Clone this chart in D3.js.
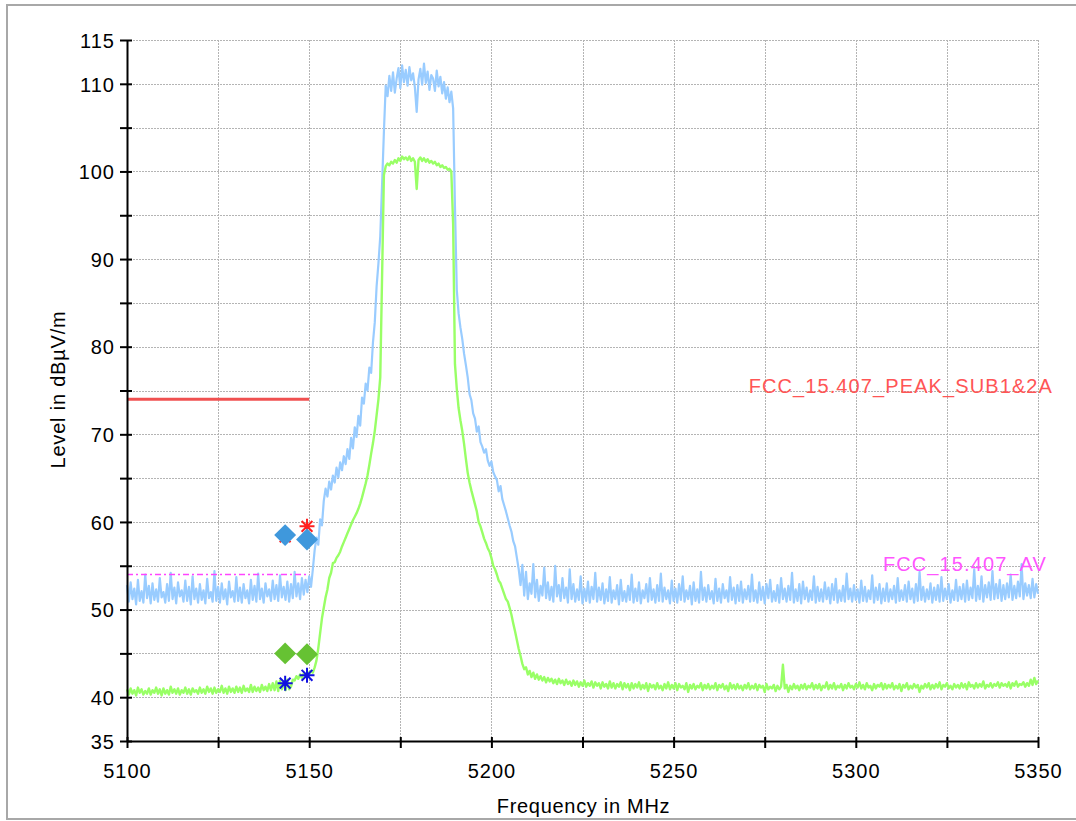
<!DOCTYPE html>
<html><head><meta charset="utf-8">
<script src="https://cdn.jsdelivr.net/npm/d3@7"></script>
<style>
html,body{margin:0;padding:0;background:#fff;}
svg{display:block;font-family:"Liberation Sans",Arial,sans-serif;}
</style></head><body>
<svg id="chart" width="1076" height="821"></svg>
<script>
// ---------- data ----------
const freqStart = 5100;
const freqStep = 0.5;

// Peak detector trace (light blue), one value every 0.5 MHz from 5100 to 5350
const peakTrace = [
52.8,50.9,53.1,51.2,52.4,50.6,53.4,51.0,52.1,50.8,54.0,51.3,52.7,50.7,53.0,51.1,52.3,50.9,53.6,51.4,
52.0,50.8,52.9,51.0,54.2,51.2,52.5,50.7,53.1,51.5,52.2,50.9,53.3,51.0,52.6,50.6,53.8,51.2,52.4,50.8,
52.9,51.1,52.2,50.7,53.5,51.3,52.0,50.9,54.4,51.0,52.6,50.8,53.0,51.2,52.3,50.6,53.2,51.4,52.1,50.9,
53.7,51.0,52.5,50.8,52.9,51.3,52.2,50.7,53.4,51.1,52.7,50.9,54.1,51.2,52.4,50.8,53.0,51.5,52.3,51.0,
53.3,51.2,52.8,51.0,53.9,51.4,52.6,51.1,53.2,50.9,52.9,51.3,54.3,51.5,53.0,51.2,53.6,51.7,53.4,52.0,
53.8,52.6,54.6,56.8,58.2,57.4,60.3,59.6,62.4,63.8,
62.9,64.6,63.7,65.3,64.5,66.2,65.1,66.8,65.9,67.5,
66.6,68.3,67.2,69.6,68.4,70.8,69.7,72.1,71.0,74.2,
73.5,75.8,75.0,77.6,77.0,80.5,82.8,86.9,89.5,92.6,
98.5,104.5,
109.8,108.6,110.9,109.2,111.3,109.0,110.6,111.8,109.5,112.1,
110.2,111.6,109.8,111.9,110.4,111.2,109.6,106.8,110.5,111.7,
109.9,112.3,110.1,111.4,109.3,111.0,110.6,109.2,111.5,109.7,
110.8,108.9,110.2,108.3,109.6,107.9,109.1,107.2,
96.0,86.5,83.8,82.2,80.9,79.2,77.9,76.5,74.6,73.9,
72.4,71.8,70.3,70.9,69.1,68.6,67.9,68.3,67.0,66.4,
66.9,65.7,65.2,64.8,63.5,64.1,62.6,61.9,61.2,60.4,
59.6,58.9,57.8,57.2,55.9,54.6,52.8,55.1,
51.6,54.3,51.2,53.0,51.8,55.2,51.4,53.4,51.0,52.7,51.6,54.8,51.3,53.1,51.1,52.6,50.9,55.0,51.5,52.8,
51.0,53.6,51.3,52.5,50.8,54.6,51.2,52.9,50.9,52.3,51.1,53.8,50.7,52.4,51.0,53.2,50.8,52.6,51.2,54.2,
50.9,52.5,51.1,53.0,50.7,52.3,51.0,53.7,50.8,52.2,51.2,52.8,50.6,53.4,51.0,52.1,50.9,52.7,51.1,54.0,
50.8,52.4,51.0,53.1,50.7,52.2,51.3,52.9,50.9,53.6,51.1,52.3,50.8,52.8,51.0,54.1,50.9,52.5,51.2,52.2,
50.7,53.3,51.0,52.4,50.8,52.9,51.1,53.8,50.9,52.2,51.2,52.7,50.6,53.1,51.0,52.3,50.8,54.3,51.1,52.5,
50.9,52.8,51.2,52.1,50.7,53.5,51.0,52.4,50.8,52.9,51.3,52.2,50.9,53.7,51.1,52.5,50.7,52.8,51.0,53.2,
50.8,52.3,51.2,52.7,50.9,54.0,51.0,52.2,50.8,53.1,51.1,52.6,50.7,52.9,51.3,53.4,50.9,52.1,51.0,52.8,
50.8,53.6,51.2,52.4,50.9,52.7,51.1,54.2,50.8,52.3,51.0,52.9,50.7,53.2,51.2,52.5,50.9,52.2,51.1,53.8,
50.8,52.6,51.0,52.3,50.9,53.1,51.2,52.5,50.7,52.9,51.1,53.5,50.8,52.2,51.0,52.7,50.9,54.1,51.2,52.4,
50.9,52.8,51.1,52.3,50.8,53.3,51.0,52.6,50.9,52.2,51.2,53.9,50.8,52.5,51.1,52.9,50.7,52.4,51.0,53.0,
50.9,52.3,51.2,52.7,50.8,53.6,51.0,52.2,51.1,52.8,50.9,53.2,51.2,52.4,50.8,52.9,51.0,54.3,51.1,52.6,
50.9,52.3,51.2,53.0,50.8,52.5,51.1,52.8,50.9,53.7,51.0,52.4,51.2,52.9,50.8,52.2,51.1,53.4,51.0,52.6,
51.2,52.9,50.9,53.3,51.1,52.5,51.3,54.6,51.0,52.7,51.2,53.8,50.9,52.8,51.4,53.1,51.1,54.4,51.2,52.9,
51.3,53.4,51.0,52.8,51.2,53.0,51.4,54.0,51.1,52.7,51.3,53.2,51.5,55.2,51.2,53.0,51.6,52.8,51.3,53.5,
51.4,52.9,51.8
];

// Average detector trace (light green), one value every 0.5 MHz from 5100 to 5350
const avgTrace = [
40.9,40.3,41.0,40.4,40.8,40.2,41.1,40.5,40.9,40.3,40.7,40.4,41.0,40.3,40.8,40.5,41.1,40.4,40.9,40.2,
41.0,40.4,40.8,40.3,41.2,40.5,40.9,40.4,41.0,40.3,40.8,40.5,41.1,40.4,40.9,40.3,41.0,40.6,40.8,40.4,
41.1,40.5,40.9,40.4,41.2,40.6,41.0,40.4,41.1,40.5,40.9,40.6,41.3,40.5,41.0,40.4,41.2,40.6,41.0,40.5,
41.2,40.6,41.1,40.5,41.3,40.7,41.0,40.6,41.4,40.6,41.2,40.7,41.1,40.6,41.4,40.8,41.2,40.7,41.5,40.8,
41.6,40.8,41.8,40.7,41.9,40.9,41.7,40.8,42.0,40.9,
41.2,42.0,41.9,42.4,42.1,42.6,42.2,42.7,42.4,42.9,42.6,43.0,42.8,43.4,
44.2,45.6,47.3,49.0,50.2,51.4,52.3,53.6,54.2,55.3,
55.4,55.9,56.2,56.6,57.2,57.7,58.2,58.7,59.2,59.7,
60.2,60.6,61.0,61.5,62.1,62.8,63.6,64.4,65.3,66.5,
67.8,69.0,70.4,72.2,74.0,76.5,
88.0,99.6,
100.6,100.9,100.7,101.1,100.9,101.3,101.0,101.5,101.2,101.7,
101.4,101.6,101.3,101.7,101.2,101.5,101.1,98.0,101.3,101.6,
101.2,101.5,101.1,101.4,101.0,101.2,100.9,101.1,100.7,100.9,
100.5,100.7,100.4,100.5,100.2,100.3,100.0,
94.0,78.0,75.2,73.0,71.6,70.4,68.9,67.2,65.6,64.5,
63.6,62.8,62.0,61.2,60.0,59.5,58.8,58.1,57.6,57.0,
56.6,55.9,55.0,54.6,54.0,53.3,53.0,52.4,51.8,51.2,
50.9,50.2,49.4,48.4,47.5,46.5,45.5,44.7,43.8,43.2,
43.4,42.6,43.0,42.3,42.8,42.1,42.6,42.0,42.4,41.9,42.3,41.7,42.2,41.8,42.1,41.6,42.0,41.5,42.1,41.6,
41.9,41.4,42.0,41.5,41.8,41.3,41.9,41.4,41.8,41.2,41.7,41.3,41.9,41.2,41.6,41.3,41.8,41.1,41.7,41.3,
41.6,41.0,41.7,41.2,41.5,41.0,41.8,41.1,41.6,41.0,41.5,41.2,41.7,40.9,41.6,41.1,41.5,40.8,41.6,41.0,
41.5,41.1,41.7,40.9,41.4,41.0,41.6,40.7,41.5,41.1,41.4,40.9,41.6,41.0,41.3,40.8,41.5,41.0,41.7,40.9,
41.4,41.0,41.6,40.8,41.5,41.1,41.3,40.9,41.6,40.6,41.4,41.0,41.5,40.9,41.3,41.1,41.6,40.8,41.4,41.0,
41.5,40.9,41.3,41.0,41.6,40.8,41.4,41.1,41.5,40.9,41.3,40.7,41.6,41.0,41.4,40.9,41.5,41.0,41.3,40.8,
41.4,41.0,41.6,40.9,41.3,41.0,41.5,40.8,41.4,41.1,41.3,40.6,41.5,40.9,41.2,41.0,41.4,40.7,41.3,40.9,
41.2,43.7,41.0,41.4,40.6,41.3,40.9,41.5,41.0,41.3,40.8,41.4,41.0,41.5,40.9,41.3,41.1,41.6,40.9,41.4,
41.0,41.5,40.8,41.3,41.1,41.7,40.9,41.4,41.0,41.6,40.9,41.3,41.1,41.5,40.8,41.4,41.0,41.6,41.1,41.3,
40.9,41.5,41.1,41.7,41.0,41.4,40.9,41.6,41.1,41.3,40.8,41.5,41.0,41.4,41.2,41.6,40.9,41.5,41.0,41.4,
41.1,41.6,40.9,41.3,41.0,41.5,40.7,41.4,41.1,41.6,40.9,41.3,41.0,41.5,41.1,41.4,40.6,41.3,41.0,41.5,
41.1,41.6,40.9,41.4,41.0,41.5,41.1,41.7,40.9,41.4,41.2,41.6,41.0,41.3,40.9,41.5,41.1,41.4,41.0,41.6,
41.1,41.5,40.9,41.7,41.2,41.4,41.0,41.6,41.1,41.5,41.2,41.8,41.0,41.4,41.2,41.6,41.1,41.5,41.3,41.7,
41.1,41.6,41.3,41.5,41.2,41.7,41.0,41.6,41.3,41.8,41.2,41.5,41.4,41.7,41.2,41.6,41.3,42.0,41.4,42.2,
41.5,41.9
];

// limit lines
const limitFreqs = [5100, 5150];
const peakLimit = [74, 74];
const avgLimit = [54, 54];
const peakLimitName = "FCC_15.407_PEAK_SUB1&2A";
const avgLimitName = "FCC_15.407_AV";

// final measurement markers
const markerFreqs = [5143.4, 5149.4];
const peakStars = [58.3, 59.5];
const peakDiamonds = [58.5, 58.0];
const avgDiamonds = [45.0, 44.9];
const avgStars = [41.6, 42.5];

// axes
const yTicks = [35,40,45,50,55,60,65,70,75,80,85,90,95,100,105,110,115];
const yTickLabels = ["35","40","","50","","60","","70","","80","","90","","100","","110","115"];
const xTicks = [5100,5125,5150,5175,5200,5225,5250,5275,5300,5325,5350];
const xTickLabels = ["5100","","5150","","5200","","5250","","5300","","5350"];
const xTitle = "Frequency in MHz";
const yTitle = "Level in dBµV/m";

// ---------- drawing ----------
const svg = d3.select("#chart");
const L = 127, R = 1038, T = 40, B = 741;
const x = d3.scaleLinear().domain([5100, 5350]).range([L, R]);
const y = d3.scaleLinear().domain([35, 115]).range([B, T]);

// outer frame
svg.append("rect").attr("x", 7).attr("y", 5).attr("width", 1080).attr("height", 814)
  .attr("fill", "none").attr("stroke", "#a8a8a8").attr("stroke-width", 2);

// grid
const grid = svg.append("g").attr("stroke", "#b4b4b4").attr("stroke-width", 1.2)
  .attr("stroke-dasharray", "1.5,1.5").attr("shape-rendering", "crispEdges");
grid.selectAll("line.h").data(yTicks.filter(v => v > 35)).join("line")
  .attr("x1", L).attr("x2", R).attr("y1", d => Math.round(y(d)) + 0.5).attr("y2", d => Math.round(y(d)) + 0.5);
grid.selectAll("line.v").data(xTicks.filter(v => v > 5100)).join("line").attr("class", "v")
  .attr("y1", T).attr("y2", B).attr("x1", d => Math.round(x(d)) + 0.5).attr("x2", d => Math.round(x(d)) + 0.5);

// traces
const freqs = peakTrace.map((_, i) => freqStart + i * freqStep);
const line = d3.line().x((d, i) => x(freqs[i])).y(d => y(d));
svg.append("path").datum(peakTrace).attr("d", line)
  .attr("fill", "none").attr("stroke", "#99ccff").attr("stroke-width", 2.2).attr("stroke-linejoin", "round");
svg.append("path").datum(avgTrace).attr("d", line)
  .attr("fill", "none").attr("stroke", "#99ff66").attr("stroke-width", 2.4).attr("stroke-linejoin", "round");

// limit lines
const lim = d3.line().x((d, i) => x(limitFreqs[i])).y(d => y(d));
svg.append("path").datum(avgLimit).attr("d", lim).attr("fill", "none")
  .attr("stroke", "#ff44ff").attr("stroke-width", 1.5).attr("stroke-dasharray", "6,3,2,3");
svg.append("path").datum(peakLimit).attr("d", lim).attr("fill", "none")
  .attr("stroke", "#f05050").attr("stroke-width", 3);

// limit labels
svg.append("text").attr("x", x(5350) + 15).attr("y", y(peakLimit[1]) - 6)
  .attr("text-anchor", "end").attr("fill", "#ff5555").attr("font-size", 20)
  .attr("letter-spacing", "1.1px").text(peakLimitName);
svg.append("text").attr("x", x(5350) + 9).attr("y", y(avgLimit[1]) - 4)
  .attr("text-anchor", "end").attr("fill", "#ff55ff").attr("font-size", 20)
  .attr("letter-spacing", "1.1px").text(avgLimitName);

// markers
const starType = {
  draw(ctx, size) {
    const r = Math.sqrt(size) / 2, d = r * 0.72;
    ctx.moveTo(-r, 0); ctx.lineTo(r, 0);
    ctx.moveTo(0, -r); ctx.lineTo(0, r);
    ctx.moveTo(-d, -d); ctx.lineTo(d, d);
    ctx.moveTo(-d, d); ctx.lineTo(d, -d);
  }
};
const starPath = d3.symbol(starType, 225)();
const diamondPath = d3.symbol(d3.symbolSquare, 240)();

svg.append("g").selectAll("path").data(peakStars).join("path")
  .attr("d", starPath).attr("transform", (d, i) => `translate(${x(markerFreqs[i])},${y(d)})`)
  .attr("fill", "none").attr("stroke", "#ff2020").attr("stroke-width", 2);
svg.append("g").selectAll("path").data(peakDiamonds).join("path")
  .attr("d", diamondPath).attr("transform", (d, i) => `translate(${x(markerFreqs[i])},${y(d)}) rotate(45)`)
  .attr("fill", "#3f98dc");
svg.append("g").selectAll("path").data(avgDiamonds).join("path")
  .attr("d", diamondPath).attr("transform", (d, i) => `translate(${x(markerFreqs[i])},${y(d)}) rotate(45)`)
  .attr("fill", "#66c233");
svg.append("g").selectAll("path").data(avgStars).join("path")
  .attr("d", starPath).attr("transform", (d, i) => `translate(${x(markerFreqs[i])},${y(d)})`)
  .attr("fill", "none").attr("stroke", "#1010e0").attr("stroke-width", 2);

// axes
const yAxis = d3.axisLeft(y).tickValues(yTicks).tickSizeInner(7).tickSizeOuter(0)
  .tickPadding(5).tickFormat((d, i) => yTickLabels[i]);
const gy = svg.append("g").attr("transform", `translate(${L},0)`).call(yAxis);
gy.select(".domain").attr("stroke", "#000").attr("stroke-width", 2);
gy.selectAll(".tick line").attr("stroke", "#000").attr("stroke-width", 2).attr("x2", -7).attr("x1", 5);
gy.selectAll(".tick text").attr("font-size", 20).attr("font-family", "Liberation Sans, Arial, sans-serif")
  .attr("fill", "#000").attr("letter-spacing", "1px").attr("dy", "0.36em");

const xAxis = d3.axisBottom(x).tickValues(xTicks).tickSizeInner(7).tickSizeOuter(0)
  .tickPadding(22).tickFormat((d, i) => xTickLabels[i]);
const gx = svg.append("g").attr("transform", `translate(0,${B})`).call(xAxis);
gx.select(".domain").attr("stroke", "#000").attr("stroke-width", 2);
gx.selectAll(".tick line").attr("stroke", "#000").attr("stroke-width", 2).attr("y1", -4).attr("y2", 7);
gx.selectAll(".tick text").attr("font-size", 20).attr("font-family", "Liberation Sans, Arial, sans-serif")
  .attr("fill", "#000").attr("letter-spacing", "1px").attr("dy", "0").attr("y", 37);

// axis titles
svg.append("text").attr("x", (L + R) / 2 + 1).attr("y", 813).attr("text-anchor", "middle")
  .attr("font-size", 20).attr("letter-spacing", "0.7px").attr("fill", "#000").text(xTitle);
svg.append("text").attr("transform", `translate(65,${(T + B) / 2 - 1}) rotate(-90)`)
  .attr("text-anchor", "middle").attr("font-size", 20).attr("letter-spacing", "0.8px")
  .attr("fill", "#000").text(yTitle);
</script>
</body></html>
